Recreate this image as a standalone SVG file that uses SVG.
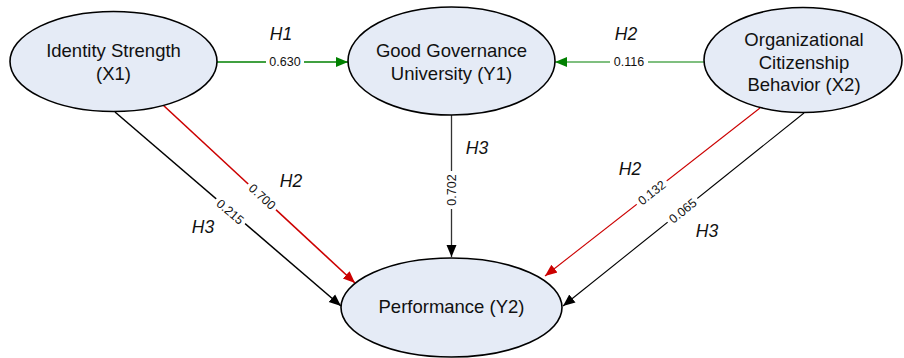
<svg xmlns="http://www.w3.org/2000/svg" width="904" height="358" viewBox="0 0 904 358">
<style>
.node ellipse{fill:#e5ebf6;stroke:#000;stroke-width:1.6}
.nt{font-family:"Liberation Sans",Arial,sans-serif;font-size:18.5px;fill:#111;text-anchor:middle}
.h{font-family:"Liberation Sans",Arial,sans-serif;font-size:17.5px;font-style:italic;fill:#111;text-anchor:middle}
.v{font-family:"Liberation Sans",Arial,sans-serif;font-size:12.5px;fill:#111;text-anchor:middle;dominant-baseline:central}
.bg{fill:#fff}
line{fill:none}
</style>
<defs>
<marker id="ag" markerUnits="userSpaceOnUse" markerWidth="14" markerHeight="12" refX="12" refY="6" orient="auto"><path d="M0,1 L12,6 L0,11 Z" fill="#008000"/></marker>
<marker id="ar" markerUnits="userSpaceOnUse" markerWidth="14" markerHeight="12" refX="12" refY="6" orient="auto"><path d="M0,1 L12,6 L0,11 Z" fill="#cc0000"/></marker>
<marker id="ak" markerUnits="userSpaceOnUse" markerWidth="14" markerHeight="12" refX="12" refY="6" orient="auto"><path d="M0,1 L12,6 L0,11 Z" fill="#000"/></marker>
</defs>
<g id="connectors">
<line x1="217" y1="62" x2="348" y2="62" stroke="#008000" stroke-width="1.6" marker-end="url(#ag)"/>
<line x1="704" y1="62" x2="555" y2="62" stroke="#008000" stroke-width="1.1" marker-end="url(#ag)"/>
<line x1="451.5" y1="115" x2="451.5" y2="257" stroke="#333" stroke-width="1.3" marker-end="url(#ak)"/>
<line x1="115" y1="112" x2="341" y2="306" stroke="#000" stroke-width="1.5" marker-end="url(#ak)"/>
<line x1="163" y1="105" x2="355" y2="283" stroke="#cc0000" stroke-width="1.6" marker-end="url(#ar)"/>
<line x1="760" y1="108" x2="545" y2="276" stroke="#cc0000" stroke-width="1.1" marker-end="url(#ar)"/>
<line x1="804" y1="113" x2="563" y2="306" stroke="#000" stroke-width="1.1" marker-end="url(#ak)"/>
<g>
<rect class="bg" x="266" y="55" width="38" height="14"/><text class="v" x="285" y="62">0.630</text>
<rect class="bg" x="610" y="55" width="38" height="14"/><text class="v" x="629" y="62">0.116</text>
<g transform="translate(451.5,190) rotate(-90)"><rect class="bg" x="-19" y="-7" width="38" height="14"/><text class="v" x="0" y="0">0.702</text></g>
<g transform="translate(230,212) rotate(40.5)"><rect class="bg" x="-19" y="-7" width="38" height="14"/><text class="v" x="0" y="0">0.215</text></g>
<g transform="translate(262,197) rotate(42.8)"><rect class="bg" x="-19" y="-7" width="38" height="14"/><text class="v" x="0" y="0">0.700</text></g>
<g transform="translate(652,193) rotate(-38)"><rect class="bg" x="-19" y="-7" width="38" height="14"/><text class="v" x="0" y="0">0.132</text></g>
<g transform="translate(683,211) rotate(-38.7)"><rect class="bg" x="-19" y="-7" width="38" height="14"/><text class="v" x="0" y="0">0.065</text></g>
</g>
<g>
<text class="h" x="281" y="40">H1</text>
<text class="h" x="626" y="40">H2</text>
<text class="h" x="477" y="154">H3</text>
<text class="h" x="291" y="187">H2</text>
<text class="h" x="203" y="233">H3</text>
<text class="h" x="630" y="175">H2</text>
<text class="h" x="707" y="237">H3</text>
</g>
</g>
<g id="x1" class="node"><ellipse cx="113.5" cy="61.5" rx="103.5" ry="50"/><text class="nt" x="113.5" y="57">Identity Strength</text><text class="nt" x="113.5" y="80">(X1)</text></g>
<g id="y1" class="node"><ellipse cx="451.5" cy="61" rx="103.5" ry="54"/><text class="nt" x="451.5" y="57">Good Governance</text><text class="nt" x="451.5" y="80">University (Y1)</text></g>
<g id="x2" class="node"><ellipse cx="803" cy="60" rx="99" ry="52.5"/><text class="nt" x="804" y="46">Organizational</text><text class="nt" x="804" y="68.5">Citizenship</text><text class="nt" x="804" y="91">Behavior (X2)</text></g>
<g id="y2" class="node"><ellipse cx="451.5" cy="307.5" rx="110.5" ry="49.5"/><text class="nt" x="451.5" y="313">Performance (Y2)</text></g>
</svg>
